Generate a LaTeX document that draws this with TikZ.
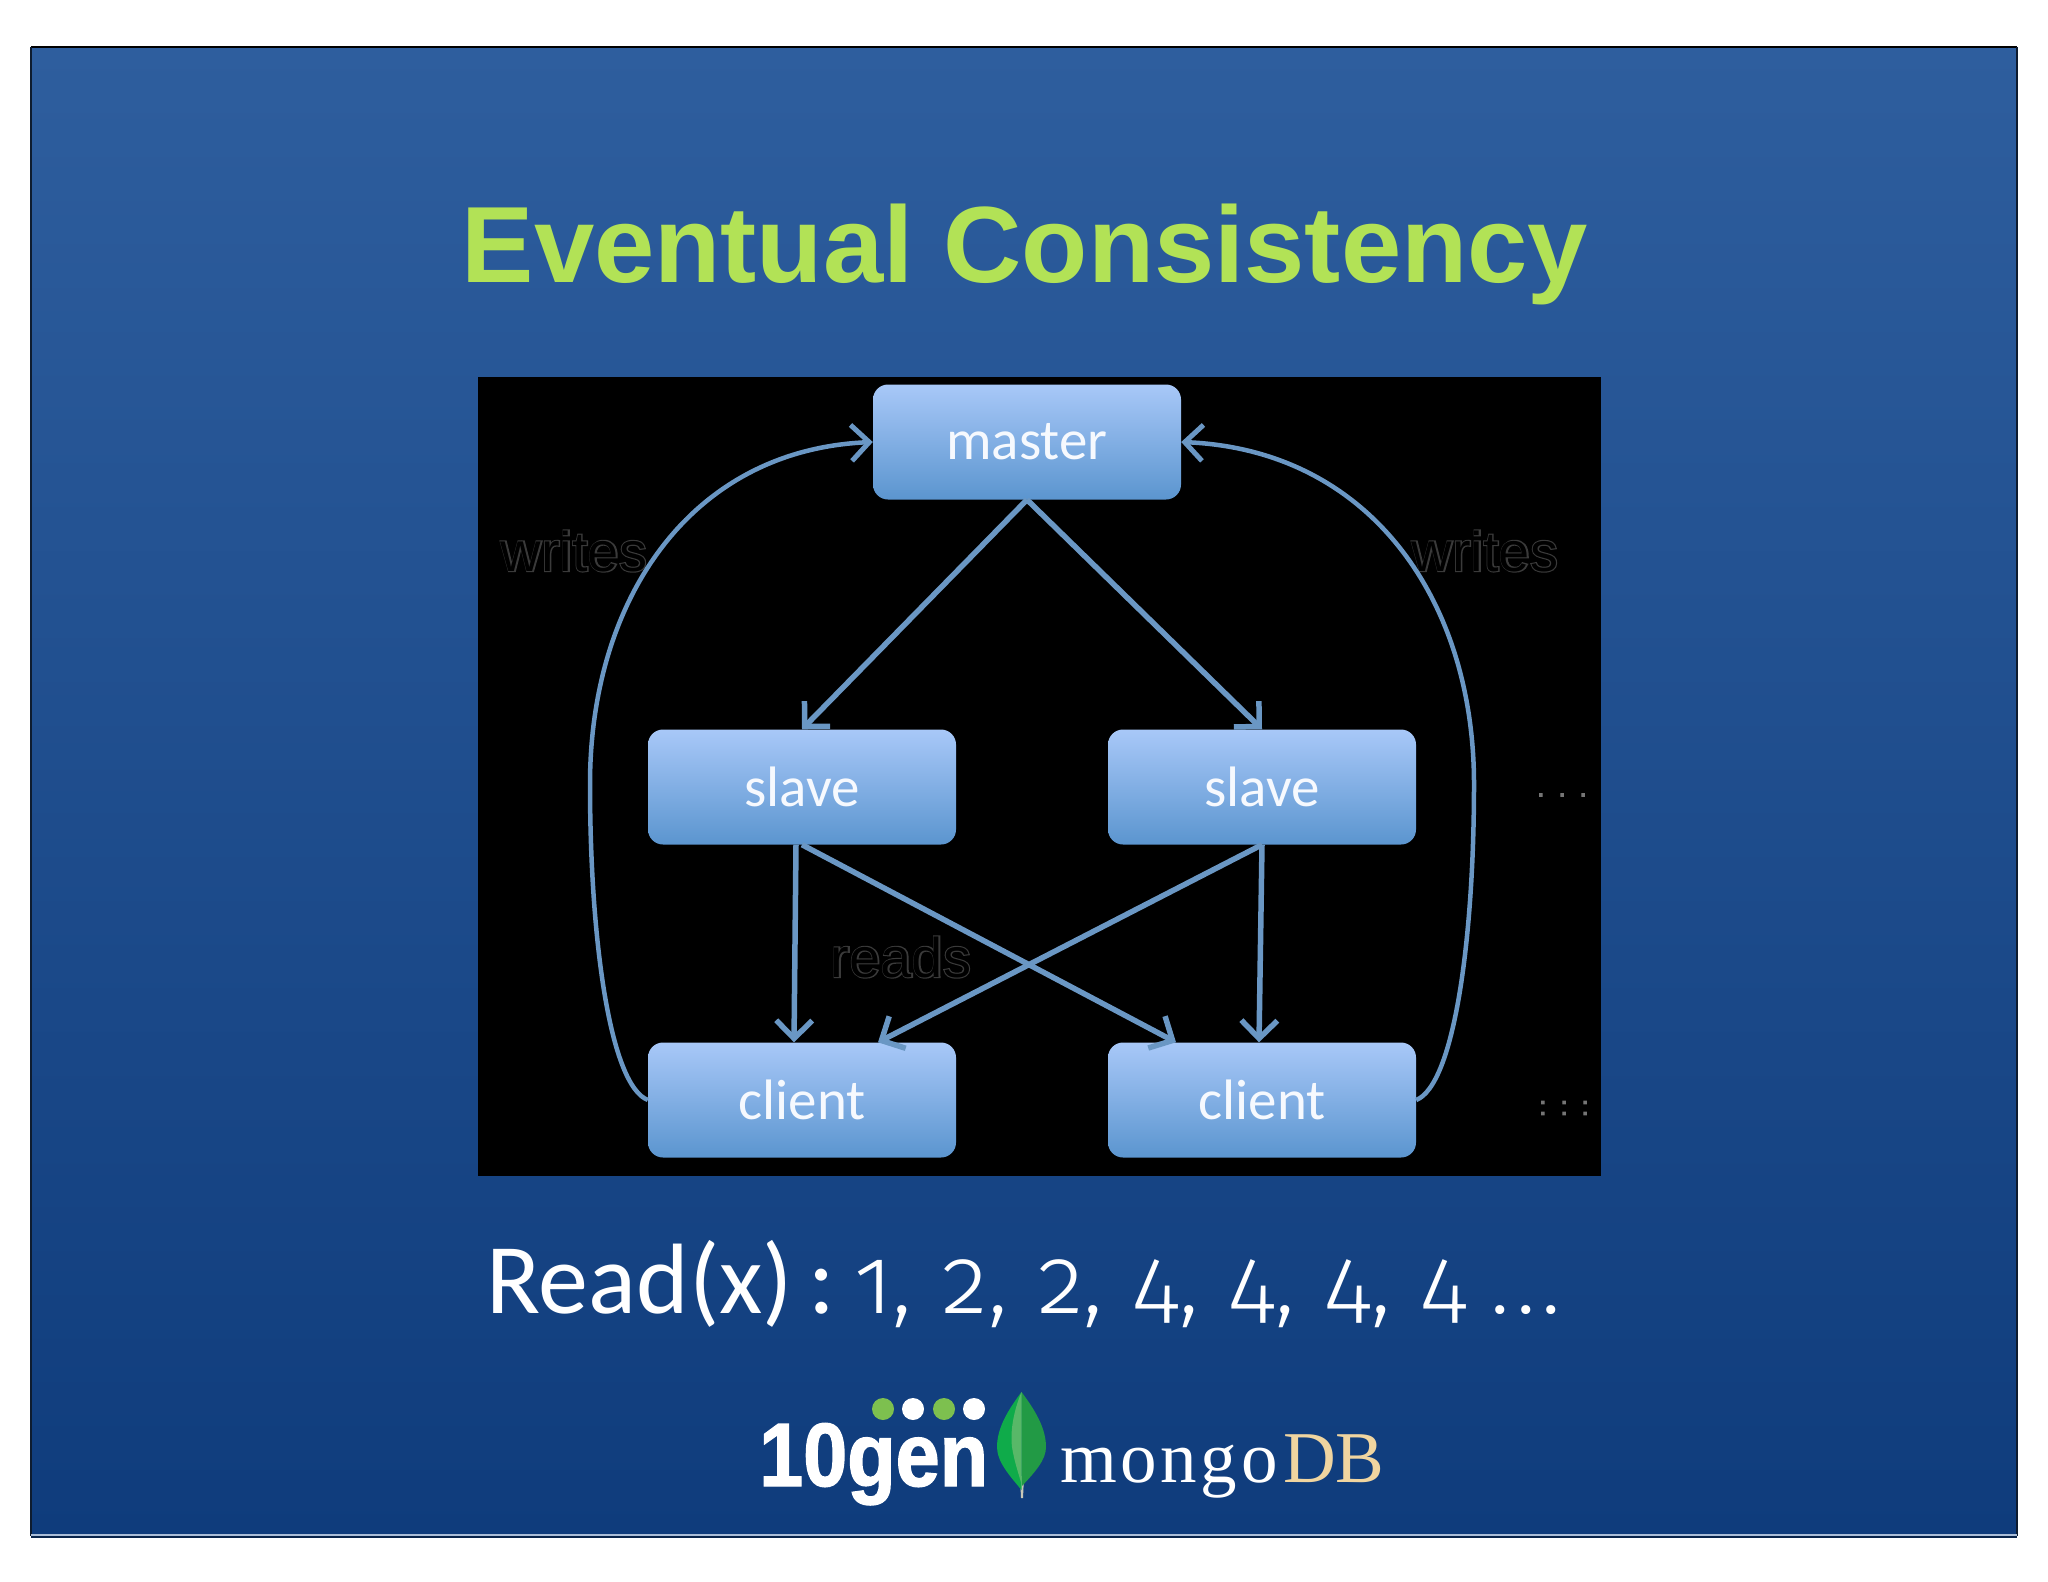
\documentclass[tikz,border=0pt]{standalone}
\usepackage{fontspec}
\usetikzlibrary{arrows.meta,shapes.geometric}
\setmainfont{Carlito}
\newfontfamily\boldsans{Liberation Sans Bold}
\newfontfamily\oldnum[Numbers=OldStyle,WordSpace=1.15]{Fira Sans Light}
\newfontfamily\tengenfont[FakeStretch=0.88,FakeBold=1.5]{Liberation Sans Bold}
\newfontfamily\mongofont[LetterSpace=5]{Liberation Serif}
\newfontfamily\dbfont{Liberation Serif}
\newfontfamily\ghostfont{Liberation Sans}
\newfontfamily\ghostbold[FakeBold=4]{Liberation Sans}
\definecolor{linkblue}{HTML}{6A97C4}
\definecolor{nodetop}{HTML}{A8C8F8}
\definecolor{nodebottom}{HTML}{5B95CF}
\definecolor{slidetop}{HTML}{2E5E9E}
\definecolor{slidebottom}{HTML}{0F3C7C}
\definecolor{titlegreen}{HTML}{B2E256}
\definecolor{ghost}{HTML}{3A3A3A}
\definecolor{dotgreen}{HTML}{7DC04F}
\definecolor{dbtan}{HTML}{F0D5A0}
\definecolor{leafleft}{HTML}{0FAB4A}
\definecolor{leafright}{HTML}{229A45}
\definecolor{leafmid}{HTML}{58B868}
\definecolor{leafstem}{HTML}{C8C8B8}
\newcommand{\ghosted}[1]{\rlap{\ghostbold\textcolor{ghost}{#1}}\textcolor{black}{#1}}
\tikzset{
  box/.style={rectangle,rounded corners=15pt,minimum width=308pt,minimum height=115pt,inner sep=0pt,
    top color=nodetop,bottom color=nodebottom,text=white!90!nodetop,font=\fontsize{57}{60}\selectfont},
  link/.style={draw=linkblue,line width=5.5pt,-{Straight Barb[length=18pt,width=36pt,line width=5.5pt]}},
  thin link/.style={draw=linkblue,line width=4.5pt,-{Straight Barb[length=18pt,width=36pt,line width=5pt]}},
  ghostlabel/.style={inner sep=0pt,font=\ghostfont\fontsize{56}{60}\selectfont},
  ghostdots/.style={inner sep=0pt,text=ghost!70!white,font=\ghostbold\fontsize{26}{28}\selectfont},
  logodot/.style={circle,inner sep=0pt,minimum size=22pt},
}
\begin{document}
\begin{tikzpicture}[x=1pt,y=-1pt]
\useasboundingbox (0,0) rectangle (2048,1582);
\fill[white] (0,0) rectangle (2048,1582);
% slide
\shade[top color=slidetop,bottom color=slidebottom] (31,47) rectangle (2017,1535);
\draw[black,line width=1.2pt] (31,47) -- (2017,47);
\draw[black!70!slidetop,line width=1.2pt] (31,47) -- (31,1536) (2017,47) -- (2017,1536);
\draw[white!60!slidetop,line width=1.5pt] (31,1535) -- (2017,1535);
\draw[slidebottom!60!black,line width=1.5pt] (31,1537) -- (2017,1537);
% title
\node[anchor=base,inner sep=0pt,text=titlegreen,font=\boldsans\fontsize{108.4}{110}\selectfont] (title) at (1025,282) {Eventual Consistency};
% panel
\fill[black] (478,377) rectangle (1601,1176);
% ghost labels
\node[ghostlabel] (wl) at (574,551) {\ghosted{writes}};
\node[ghostlabel] (wr) at (1485,551) {\ghosted{writes}};
\node[ghostlabel] (rd) at (901,957) {\ghosted{reads}};
\node[ghostdots] (d1) at (1562,795) {.\hspace{14pt}.\hspace{14pt}.};
\node[ghostdots] (d2) at (1564,1108) {:\hspace{14pt}:\hspace{14pt}:};
% nodes
\node[box] (master) at (1027,442) {master};
\node[box] (slavel) at (802,787) {slave};
\node[box] (slaver) at (1262,787) {slave};
\node[box] (clientl) at (802,1100) {client};
\node[box] (clientr) at (1262,1100) {client};
% connectors
\draw[link] (master.south) -- (slavel.north);
\draw[link] (master.south) -- (slaver.north);
\draw[link] ([xshift=-6pt]slavel.south) -- ([xshift=-8pt]clientl.north);
\draw[link] (slaver.south) -- ([xshift=-3pt]clientr.north);
\draw[link] (slavel.south) -- ([xshift=-86pt]clientr.north);
\draw[link] (slaver.south) -- ([xshift=76pt]clientl.north);
\draw[thin link] (clientl.west) .. controls (610,1085) and (590,940) .. (590,784)
   .. controls (590,600) and (690,450) .. (master.west);
\draw[thin link] (clientr.east) .. controls (1454,1085) and (1474,940) .. (1474,784)
   .. controls (1474,600) and (1370,450) .. (master.east);
% read line
\node[anchor=base west,inner sep=0pt,text=white,font=\fontsize{100}{110}\selectfont] (read) at (486,1313) {Read(x)\hspace{16pt}:\hspace{19pt}{\oldnum\fontsize{94.5}{110}\selectfont 1, 2, 2, 4, 4, 4, 4\hspace{-6pt} .\hspace{6pt}.\hspace{6pt}.}};
% logo
\node[anchor=base west,inner sep=0pt,text=white,font=\tengenfont\fontsize{90}{100}\selectfont] (tengen) at (759,1486) {10gen};
\node[logodot,fill=dotgreen] (dota) at (883,1409) {};
\node[logodot,fill=white] (dotb) at (913,1409) {};
\node[logodot,fill=dotgreen] (dotc) at (944,1409) {};
\node[logodot,fill=white] (dotd) at (974,1409) {};
% leaf
\fill[leafstem] (1020,1476) -- (1024,1476) -- (1023,1498) -- (1021,1498) -- cycle;
\fill[leafleft] (1021.5,1392) .. controls (1008,1410) and (997,1428) .. (997,1447)
   .. controls (997,1462) and (1010,1476) .. (1021.5,1490) -- cycle;
\fill[leafright] (1021.5,1392) .. controls (1035,1410) and (1046,1428) .. (1046,1447)
   .. controls (1046,1460) and (1035,1472) .. (1022,1486) -- cycle;
\fill[leafmid] (1021.5,1392) .. controls (1014,1410) and (1010,1430) .. (1012,1447)
   .. controls (1014,1460) and (1018,1472) .. (1021.5,1484) -- cycle;
% mongoDB
\node[anchor=base west,inner sep=0pt,text=white,font=\mongofont\fontsize{73}{80}\selectfont] (mongo) at (1060,1482) {mongo};
\node[anchor=base west,inner sep=0pt,text=dbtan,font=\dbfont\fontsize{73}{80}\selectfont] (db) at (1283,1482) {DB};
\end{tikzpicture}
\end{document}
